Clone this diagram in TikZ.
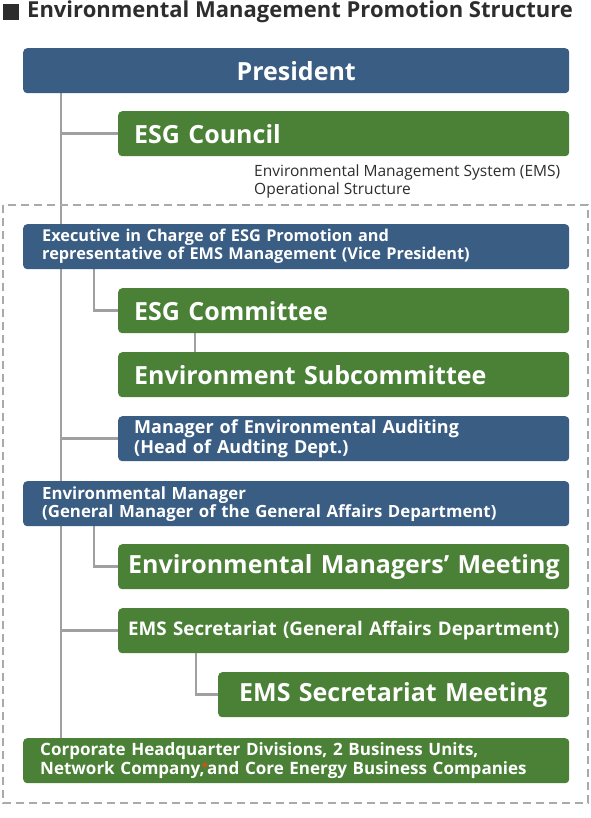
\documentclass[tikz,border=0pt]{standalone}
\usepackage{fontspec}
\setmainfont{Open Sans}
\usetikzlibrary{calc,backgrounds}
\definecolor{boxblue}{RGB}{58,93,131}
\definecolor{boxgreen}{RGB}{74,129,54}
\definecolor{linegray}{RGB}{160,160,160}
\definecolor{framegray}{RGB}{170,170,170}
\definecolor{titlegray}{RGB}{45,45,45}
\definecolor{starred}{RGB}{225,75,25}
\begin{document}
\begin{tikzpicture}[x=1pt,y=-1pt,
    box/.style={anchor=north west, rounded corners=4pt, minimum height=45pt,
      inner ysep=0pt, text=white, font=\bfseries, align=left},
    bluebox/.style={box, fill=boxblue},
    greenbox/.style={box, fill=boxgreen},
    big/.style={font=\bfseries\fontsize{25}{28}\selectfont},
    link/.style={draw=linegray, line width=2.5pt}]
  \useasboundingbox (0,0) rectangle (590,818);
  % title
  \fill[titlegray] (3,4) rectangle (19,20);
  \node[anchor=west, text=titlegray, font=\bfseries\fontsize{22}{24}\selectfont, inner sep=0pt]
    (title) at (27,12) {Environmental Management Promotion Structure};
  % EMS frame
  \draw[framegray, line width=2pt, dash pattern=on 8pt off 5pt] (3,205) rectangle (588,803);
  \node[anchor=north west, text=titlegray, font=\fontsize{15.5}{18}\selectfont, align=left, inner sep=0pt]
    (emsnote) at (254,165) {Environmental Management System (EMS)\\Operational Structure};
  % boxes
  \node[bluebox, big, minimum width=546pt, align=center] (president) at (23,48) {President};
  \node[greenbox, big, text width=419pt, inner xsep=16pt] (council) at (118,111) {ESG Council};
  \node[bluebox, font=\bfseries\fontsize{16.3}{18}\selectfont, text width=508pt, inner xsep=19pt] (exec) at (23,224)
    {Executive in Charge of ESG Promotion and\\representative of EMS Management (Vice President)};
  \node[greenbox, big, text width=419pt, inner xsep=16pt] (committee) at (118,288) {ESG Committee};
  \node[greenbox, big, text width=419pt, inner xsep=16pt] (subcommittee) at (118,352) {Environment Subcommittee};
  \node[bluebox, font=\bfseries\fontsize{18}{20}\selectfont, text width=419pt, inner xsep=16pt] (auditing) at (118,416)
    {Manager of Environmental Auditing\\(Head of Audting Dept.)};
  \node[bluebox, font=\bfseries\fontsize{16.8}{18}\selectfont, text width=508pt, inner xsep=19pt] (envmanager) at (23,481)
    {Environmental Manager\\(General Manager of the General Affairs Department)};
  \node[greenbox, big, text width=431pt, inner xsep=10pt] (managersmeeting) at (118,544)
    {\mbox{Environmental Managers’ Meeting}};
  \node[greenbox, font=\bfseries\fontsize{18.8}{21}\selectfont, text width=431pt, inner xsep=10pt] (secretariat) at (118,608)
    {\mbox{EMS Secretariat (General Affairs Department)}};
  \node[greenbox, big, text width=309pt, inner xsep=21pt] (secmeeting) at (218,672) {EMS Secretariat Meeting};
  \node[greenbox, font=\bfseries\fontsize{17}{19}\selectfont, text width=512pt, inner xsep=17pt] (divisions) at (23,738)
    {Corporate Headquarter Divisions, 2 Business Units,\\Network Company,\kern-3pt\textcolor{starred}{\raisebox{3pt}{\fontsize{12}{12}\selectfont*}}\kern-1pt and Core Energy Business Companies};
  % connectors
  \begin{scope}[on background layer]
    \coordinate (trunk) at ([xshift=38pt]president.south west);
    \draw[link] (trunk) -- (trunk |- divisions.north);
    \draw[link] (trunk |- council.west) -- (council.west);
    \draw[link] (trunk |- auditing.west) -- (auditing.west);
    \draw[link] (trunk |- secretariat.west) -- (secretariat.west);
    \draw[link] ([xshift=71pt]exec.south west) |- (committee.west);
    \draw[link] ([xshift=77pt]committee.south west) -- ([xshift=77pt]subcommittee.north west);
    \draw[link] ([xshift=71pt]envmanager.south west) |- (managersmeeting.west);
    \draw[link] ([xshift=78pt]secretariat.south west) |- (secmeeting.west);
  \end{scope}
\end{tikzpicture}
\end{document}
